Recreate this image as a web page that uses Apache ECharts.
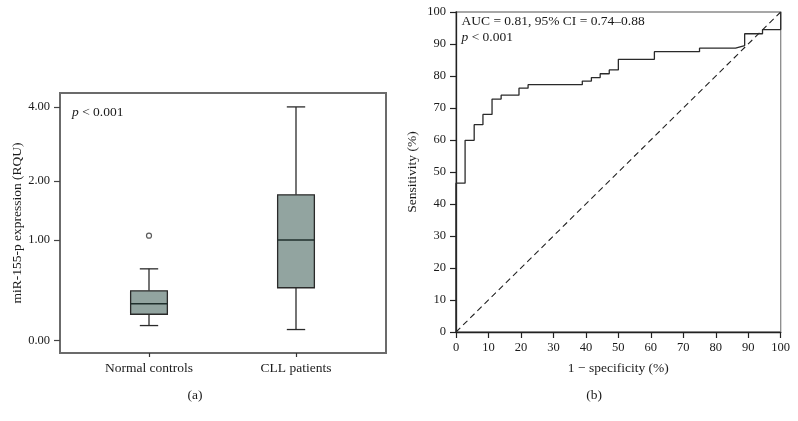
<!DOCTYPE html>
<html><head><meta charset="utf-8">
<script src="https://cdn.jsdelivr.net/npm/echarts@6/dist/echarts.min.js"></script>
<style>html,body{margin:0;padding:0;background:#fff}#c{width:798px;height:421px}</style>
</head><body><div id="c"></div>
<script>
// ---------- Data ----------
const groups = ['Normal controls', 'CLL patients'];
// [lower whisker, Q1, median, Q3, upper whisker] in RQU
const boxNormal = [0.11, 0.20, 0.29, 0.41, 0.64];
const boxCLL = [0.08, 0.44, 1.00, 1.73, 4.00];
const outliersNormal = [1.06];
const yTickValues = [0, 1, 2, 4];
// ROC curve vertices (1 - specificity %, sensitivity %)
const rocFpr = [0, 0, 2.8, 2.8, 5.6, 5.6, 8.3, 8.3, 11.1, 11.1, 13.9, 13.9, 19.4, 19.4, 22.2, 22.2, 38.9, 38.9, 41.7, 41.7, 44.4, 44.4, 47.2, 47.2, 50.0, 50.0, 61.1, 61.1, 75.0, 75.0, 86.1, 88.9, 88.9, 94.4, 94.4, 100, 100];
const rocTpr = [0, 46.5, 46.5, 59.9, 59.9, 64.8, 64.8, 68.0, 68.0, 72.8, 72.8, 74.0, 74.0, 76.2, 76.2, 77.3, 77.3, 78.4, 78.4, 79.5, 79.5, 80.7, 80.7, 81.9, 81.9, 85.2, 85.2, 87.6, 87.6, 88.7, 88.7, 89.5, 93.2, 93.2, 94.5, 94.5, 100];
const refLine = [[0, 0], [100, 100]];
const aucText = 'AUC = 0.81, 95% CI = 0.74\u20130.88';
const pText = '{i|p} < 0.001';

// ---------- Helpers ----------
const tr = v => Math.log2(v + 1);
const inv = t => Math.pow(2, t) - 1;
const FONT = 'Liberation Serif';
const TXT = '#1a1a1a';

const boxData = [boxNormal, boxCLL].map((b, i) => [i].concat(b.map(tr)));
const outlierData = outliersNormal.map(v => [0, tr(v)]);
const rocData = rocFpr.map((x, i) => [x, rocTpr[i]]);

const chart = echarts.init(document.getElementById('c'), null, {renderer: 'canvas'});
const option = {
  animation: false,
  backgroundColor: '#fff',
  grid: [
    {left: 60, right: 412, top: 93, bottom: 68, show: true, borderColor: '#6b6b6b', borderWidth: 2, backgroundColor: 'transparent'},
    {left: 75.5, right: 428.5, top: 93, bottom: 68},
    {left: 456, right: 17.3, top: 12, bottom: 89, show: true, borderColor: '#8a8a8a', borderWidth: 1.3, backgroundColor: 'transparent'}
  ],
  xAxis: [
    {gridIndex: 0, type: 'value', show: false, min: 0, max: 1},
    {gridIndex: 1, type: 'category', data: groups, boundaryGap: true,
     axisLine: {show: false, onZero: false},
     axisTick: {show: true, alignWithLabel: true, length: 4, lineStyle: {color: '#333', width: 1.2}},
     axisLabel: {fontFamily: FONT, fontSize: 13.5, color: TXT, margin: 8},
     splitLine: {show: false}},
    {gridIndex: 2, type: 'value', min: 0, max: 100, interval: 10,
     axisLine: {show: true, onZero: false, lineStyle: {color: '#222', width: 1.3}},
     axisTick: {show: true, length: 6, lineStyle: {color: '#222', width: 1.2}},
     axisLabel: {fontFamily: FONT, fontSize: 12.5, color: TXT, margin: 9},
     splitLine: {show: false},
     name: '1 \u2212 specificity (%)', nameLocation: 'middle', nameGap: 29,
     nameTextStyle: {fontFamily: FONT, fontSize: 13.5, color: TXT}}
  ],
  yAxis: [
    {gridIndex: 0, type: 'value', show: false, min: 0, max: 1},
    {gridIndex: 1, type: 'value', min: -0.122, max: 2.46, offset: 15.5,
     axisLine: {show: false},
     axisTick: {show: true, length: 6, customValues: yTickValues.map(tr), lineStyle: {color: '#444', width: 1.2}},
     axisLabel: {customValues: yTickValues.map(tr), formatter: v => inv(v).toFixed(2),
                 fontFamily: FONT, fontSize: 12.5, color: TXT, margin: 10},
     splitLine: {show: false},
     name: 'miR-155-p expression (RQU)', nameLocation: 'middle', nameGap: 36,
     nameTextStyle: {fontFamily: FONT, fontSize: 13.5, color: TXT}},
    {gridIndex: 2, type: 'value', min: 0, max: 100, interval: 10,
     axisLine: {show: true, onZero: false, lineStyle: {color: '#222', width: 1.3}},
     axisTick: {show: true, length: 6, lineStyle: {color: '#222', width: 1.2}},
     axisLabel: {fontFamily: FONT, fontSize: 12.5, color: TXT, margin: 10},
     splitLine: {show: false},
     name: 'Sensitivity (%)', nameLocation: 'middle', nameGap: 37,
     nameTextStyle: {fontFamily: FONT, fontSize: 13.5, color: TXT}}
  ],
  series: [
    {type: 'custom', xAxisIndex: 1, yAxisIndex: 1, data: boxData,
     encode: {x: 0, y: [1, 2, 3, 4, 5]},
     renderItem: function (params, api) {
       const c = api.value(0);
       const lo = api.coord([c, api.value(1)]);
       const q1 = api.coord([c, api.value(2)]);
       const md = api.coord([c, api.value(3)]);
       const q3 = api.coord([c, api.value(4)]);
       const hi = api.coord([c, api.value(5)]);
       const bw = api.size([1, 0])[0] * 0.25;
       const cx = lo[0];
       const ls = {stroke: '#2a2a2a', lineWidth: 1.3};
       return {type: 'group', children: [
         {type: 'line', shape: {x1: cx, y1: lo[1], x2: cx, y2: q1[1]}, style: ls},
         {type: 'line', shape: {x1: cx, y1: q3[1], x2: cx, y2: hi[1]}, style: ls},
         {type: 'line', shape: {x1: cx - bw / 4, y1: lo[1], x2: cx + bw / 4, y2: lo[1]}, style: ls},
         {type: 'line', shape: {x1: cx - bw / 4, y1: hi[1], x2: cx + bw / 4, y2: hi[1]}, style: ls},
         {type: 'rect', shape: {x: cx - bw / 2, y: q3[1], width: bw, height: q1[1] - q3[1]},
          style: {fill: '#92a4a0', stroke: '#2a2a2a', lineWidth: 1.3}},
         {type: 'line', shape: {x1: cx - bw / 2, y1: md[1], x2: cx + bw / 2, y2: md[1]}, style: {stroke: '#1f2f2c', lineWidth: 1.5}}
       ]};
     }},
    {type: 'scatter', xAxisIndex: 1, yAxisIndex: 1, data: outlierData,
     symbol: 'circle', symbolSize: 5,
     itemStyle: {color: '#fff', borderColor: '#333', borderWidth: 1.2}},
    {type: 'line', xAxisIndex: 2, yAxisIndex: 2, data: refLine, symbol: 'none',
     lineStyle: {color: '#222', width: 1.1, type: [6, 4]}},
    {type: 'line', xAxisIndex: 2, yAxisIndex: 2, data: rocData, symbol: 'none',
     lineStyle: {color: '#2a2a2a', width: 1.3}}
  ],
  graphic: [
    {type: 'text', left: 72, top: 105, style: {text: pText, font: '13.5px "Liberation Serif"', fill: TXT,
      rich: {i: {fontStyle: 'italic', fontFamily: FONT, fontSize: 13.5}}}},
    {type: 'text', left: 461.5, top: 14, style: {text: aucText, font: '13.5px "Liberation Serif"', fill: TXT}},
    {type: 'text', left: 461.5, top: 30, style: {text: pText, font: '13.5px "Liberation Serif"', fill: TXT,
      rich: {i: {fontStyle: 'italic', fontFamily: FONT, fontSize: 13.5}}}},
    {type: 'text', x: 195, y: 395, style: {text: '(a)', font: '13.5px "Liberation Serif"', fill: TXT, align: 'center', verticalAlign: 'middle'}},
    {type: 'text', x: 594, y: 395, style: {text: '(b)', font: '13.5px "Liberation Serif"', fill: TXT, align: 'center', verticalAlign: 'middle'}}
  ]
};
chart.setOption(option);
</script>
</body></html>
